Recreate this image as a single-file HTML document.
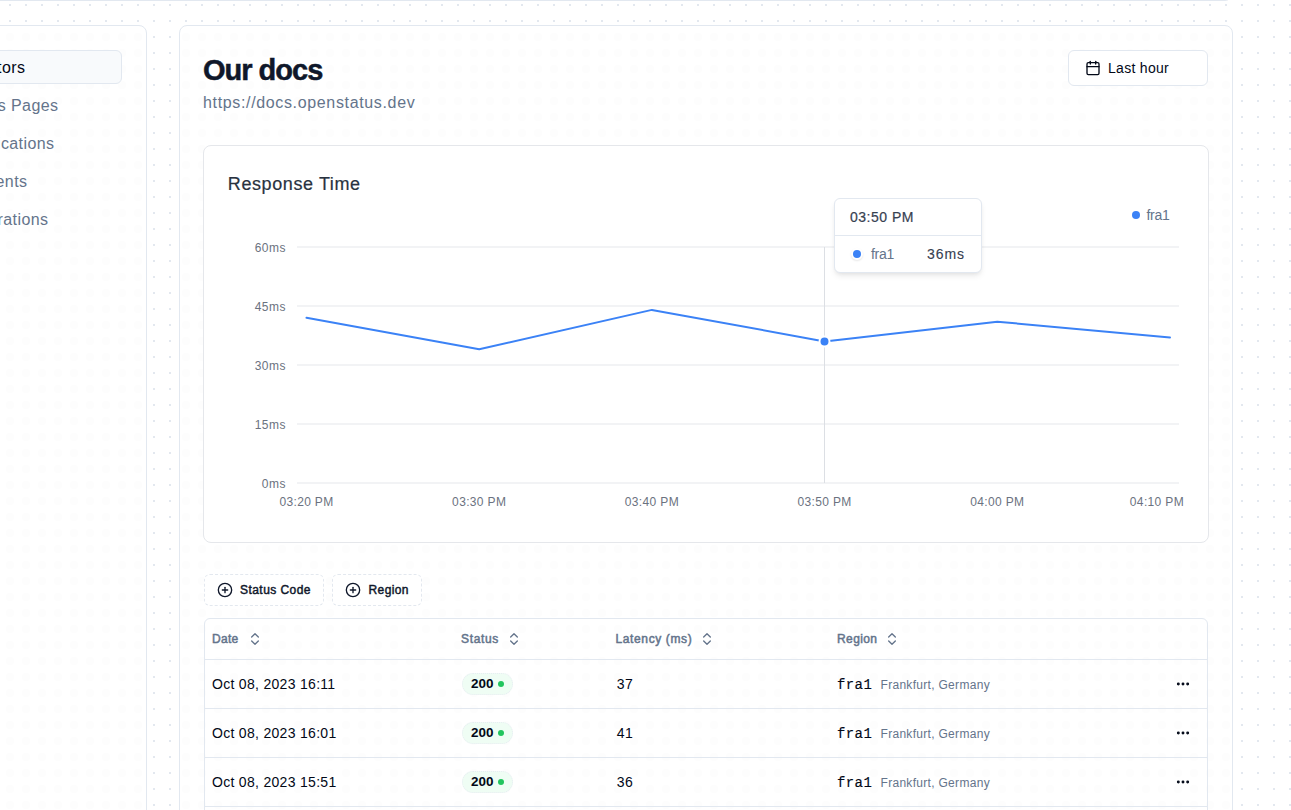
<!DOCTYPE html>
<html><head><meta charset="utf-8">
<style>
*{box-sizing:border-box;margin:0;padding:0}
html,body{width:1291px;height:810px;overflow:hidden;background:#fff}
body{position:relative;font-family:"Liberation Sans",sans-serif;color:#020817}
.abs{position:absolute}
.bgdots{position:absolute;left:0;top:0}
.card{position:absolute;border:1px solid #e2e8f0;border-radius:8px}
.t{position:absolute;white-space:nowrap;line-height:1}
.nav{position:absolute;white-space:nowrap;font-size:16px;color:#64748b;line-height:20px;margin-top:1px;letter-spacing:0.4px;margin-right:-0.4px}
.th{font-size:12px;color:#64748b;font-weight:400;-webkit-text-stroke:0.5px #64748b}
.td{font-size:14px;color:#020817;letter-spacing:0.3px;margin-left:-1px}
.badge{width:51px;height:22px;border-radius:11px;background:#effdf4;border:1px dotted #e8edf3}
.badge span{position:absolute;left:8px;top:4px;font-size:12px;line-height:1;font-weight:700;color:#020817;letter-spacing:0;transform:scaleX(1.12);transform-origin:0 0}
.badge i{position:absolute;left:35px;top:7px;width:6px;height:6px;border-radius:50%;background:#22c55e}
</style></head><body>
<svg class="bgdots" width="1291" height="810">
<defs>
<pattern id="dp" width="16" height="16" patternUnits="userSpaceOnUse" x="0" y="0"><rect x="9" y="4" width="2" height="2" fill="#e3e8ef"/></pattern>
<pattern id="bp" width="16" height="16" patternUnits="userSpaceOnUse" x="0" y="0"><circle cx="10" cy="5" r="4" fill="#000" fill-opacity="0.009"/></pattern>
</defs>
<rect width="1291" height="810" fill="url(#dp)"/>
<g fill="#fff"><rect x="-20" y="-60" width="1253" height="61" rx="8"/><rect x="-20" y="25" width="167" height="840" rx="8"/><rect x="179" y="25" width="1054" height="840" rx="8"/></g>
<g fill="url(#bp)"><rect x="-20" y="-60" width="1253" height="61" rx="8"/><rect x="-20" y="25" width="167" height="840" rx="8"/><rect x="179" y="25" width="1054" height="840" rx="8"/></g>
</svg>

<!-- header card -->
<div class="card" style="left:-20px;top:-60px;width:1253px;height:61px"></div>
<!-- sidebar card -->
<div class="card" style="left:-20px;top:25px;width:167px;height:840px"></div>
<!-- main card -->
<div class="card" style="left:179px;top:25px;width:1054px;height:840px"></div>

<!-- sidebar nav -->
<div class="abs" style="left:-40px;top:50px;width:162px;height:34px;border:1px solid #e2e8f0;border-radius:6px;background:#f8fafc"></div>
<div class="nav" style="top:57px;right:1266px;color:#020817">Monitors</div>
<div class="nav" style="top:95px;right:1233px">Status Pages</div>
<div class="nav" style="top:133px;right:1237px">Notifications</div>
<div class="nav" style="top:171px;right:1264px">Incidents</div>
<div class="nav" style="top:209px;right:1243px">Integrations</div>

<!-- title -->
<div class="t" style="left:203px;top:55.5px;font-size:29px;font-weight:700;letter-spacing:-1.0px;color:#0f172a;-webkit-text-stroke:0.5px #0f172a">Our docs</div>
<div class="t" style="left:203px;top:95px;font-size:16px;letter-spacing:0.65px;color:#64748b">https://docs.openstatus.dev</div>

<!-- date button -->
<div class="abs" style="left:1068px;top:50px;width:140px;height:36px;border:1px solid #e2e8f0;border-radius:6px;background:#fff"></div>
<svg class="abs" style="left:1085px;top:60px" width="16" height="16" viewBox="0 0 24 24" fill="none" stroke="#020817" stroke-width="2" stroke-linecap="round" stroke-linejoin="round"><rect x="3" y="4" width="18" height="18" rx="2"/><line x1="16" y1="2" x2="16" y2="6"/><line x1="8" y1="2" x2="8" y2="6"/><line x1="3" y1="10" x2="21" y2="10"/></svg>
<div class="t" style="left:1108px;top:61px;font-size:14px;letter-spacing:0.3px;color:#020817">Last hour</div>

<!-- chart card -->
<div class="abs" style="left:203px;top:145px;width:1006px;height:398px;border:1px solid #e5e7eb;border-radius:8px;background:#fff"></div>
<div class="t" style="left:227.8px;top:175px;font-size:18px;letter-spacing:0.6px;color:#283240;-webkit-text-stroke:0.2px #283240">Response Time</div>

<svg class="abs" style="left:0;top:0" width="1291" height="810">
<line x1="297" y1="247" x2="1179" y2="247" stroke="#e5e7eb" stroke-width="1"/>
<line x1="297" y1="306" x2="1179" y2="306" stroke="#e5e7eb" stroke-width="1"/>
<line x1="297" y1="365" x2="1179" y2="365" stroke="#e5e7eb" stroke-width="1"/>
<line x1="297" y1="424" x2="1179" y2="424" stroke="#e5e7eb" stroke-width="1"/>
<line x1="297" y1="483" x2="1179" y2="483" stroke="#e5e7eb" stroke-width="1"/>
<text x="286" y="252" text-anchor="end" font-size="12" letter-spacing="0.5" fill="#6b7280">60ms</text>
<text x="286" y="311" text-anchor="end" font-size="12" letter-spacing="0.5" fill="#6b7280">45ms</text>
<text x="286" y="370" text-anchor="end" font-size="12" letter-spacing="0.5" fill="#6b7280">30ms</text>
<text x="286" y="429" text-anchor="end" font-size="12" letter-spacing="0.5" fill="#6b7280">15ms</text>
<text x="286" y="488" text-anchor="end" font-size="12" letter-spacing="0.5" fill="#6b7280">0ms</text>
<text x="306.5" y="506" text-anchor="middle" font-size="12" letter-spacing="0.35" fill="#6b7280">03:20 PM</text>
<text x="479.2" y="506" text-anchor="middle" font-size="12" letter-spacing="0.35" fill="#6b7280">03:30 PM</text>
<text x="651.9" y="506" text-anchor="middle" font-size="12" letter-spacing="0.35" fill="#6b7280">03:40 PM</text>
<text x="824.6" y="506" text-anchor="middle" font-size="12" letter-spacing="0.35" fill="#6b7280">03:50 PM</text>
<text x="997.3" y="506" text-anchor="middle" font-size="12" letter-spacing="0.35" fill="#6b7280">04:00 PM</text>
<text x="1184" y="506" text-anchor="end" font-size="12" letter-spacing="0.35" fill="#6b7280">04:10 PM</text>
<line x1="824.5" y1="247" x2="824.5" y2="483" stroke="#dcdfe4" stroke-width="1"/>
<path d="M306.5 317.8 L479.2 349.3 L651.9 309.9 L824.6 341.4 L997.3 321.7 L1170.0 337.5" fill="none" stroke="#3b82f6" stroke-width="2" stroke-linejoin="round" stroke-linecap="round"/>
<circle cx="824.5" cy="341.4" r="5" fill="#3b82f6" stroke="#fff" stroke-width="2"/>
<circle cx="1136" cy="215" r="4" fill="#3b82f6"/>
<text x="1146.5" y="220" font-size="14" letter-spacing="-0.3" fill="#64748b">fra1</text>
</svg>

<!-- tooltip -->
<div class="abs" style="left:834px;top:198px;width:148px;height:75px;border:1px solid #e2e8f0;border-radius:6px;background:#fff;box-shadow:0 4px 6px -1px rgba(0,0,0,0.08),0 2px 4px -2px rgba(0,0,0,0.08)">
 <div style="position:absolute;left:0;right:0;top:36px;border-top:1px solid #e2e8f0"></div>
</div>
<div class="t" style="left:850px;top:210px;font-size:14px;letter-spacing:0.5px;color:#374151;-webkit-text-stroke:0.2px #374151">03:50 PM</div>
<div class="abs" style="left:851px;top:248px;width:12px;height:12px;border-radius:50%;background:#3b82f6;border:2px solid #fff;box-shadow:0 1px 2px rgba(0,0,0,0.1)"></div>
<div class="t" style="left:871px;top:247px;font-size:14px;letter-spacing:-0.3px;color:#64748b">fra1</div>
<div class="t" style="left:927px;top:247px;font-size:14px;letter-spacing:0.95px;color:#374151;-webkit-text-stroke:0.12px #374151">36ms</div>


<!-- filters -->
<div class="abs" style="left:204px;top:574px;width:120px;height:32px;border:1px dashed #e3e8ef;border-radius:6px;background:rgba(255,255,255,0.7)"></div>
<div class="abs" style="left:217px;top:582px"><svg width="16" height="16" viewBox="0 0 24 24" fill="none" stroke="#0f172a" stroke-width="2" stroke-linecap="round" stroke-linejoin="round"><circle cx="12" cy="12" r="10"/><path d="M8 12h8"/><path d="M12 8v8"/></svg></div>
<div class="t" style="left:240px;top:584px;font-size:12px;font-weight:400;letter-spacing:0.45px;color:#0f172a;-webkit-text-stroke:0.45px #0f172a">Status Code</div>
<div class="abs" style="left:332px;top:574px;width:90px;height:32px;border:1px dashed #e3e8ef;border-radius:6px;background:rgba(255,255,255,0.7)"></div>
<div class="abs" style="left:345px;top:582px"><svg width="16" height="16" viewBox="0 0 24 24" fill="none" stroke="#0f172a" stroke-width="2" stroke-linecap="round" stroke-linejoin="round"><circle cx="12" cy="12" r="10"/><path d="M8 12h8"/><path d="M12 8v8"/></svg></div>
<div class="t" style="left:368.5px;top:584px;font-size:12px;font-weight:400;letter-spacing:0.4px;color:#0f172a;-webkit-text-stroke:0.45px #0f172a">Region</div>

<!-- table -->
<div class="abs" style="left:204px;top:618px;width:1004px;height:260px;border:1px solid #e2e8f0;border-radius:6px"></div>
<div class="abs" style="left:205px;top:659px;width:1002px;border-top:1px solid #e2e8f0"></div>
<div class="abs" style="left:205px;top:708px;width:1002px;border-top:1px solid #e2e8f0"></div>
<div class="abs" style="left:205px;top:757px;width:1002px;border-top:1px solid #e2e8f0"></div>
<div class="abs" style="left:205px;top:806px;width:1002px;border-top:1px solid #e2e8f0"></div>
<div class="t th" style="left:212px;top:633px;letter-spacing:0.3px">Date</div><svg class="abs" style="left:247px;top:631px" width="16" height="16" viewBox="0 0 24 24" fill="none" stroke="#64748b" stroke-width="2" stroke-linecap="round" stroke-linejoin="round"><path d="m7 15 5 5 5-5"/><path d="m7 9 5-5 5 5"/></svg>
<div class="t th" style="left:461px;top:633px;letter-spacing:0.65px">Status</div><svg class="abs" style="left:506px;top:631px" width="16" height="16" viewBox="0 0 24 24" fill="none" stroke="#64748b" stroke-width="2" stroke-linecap="round" stroke-linejoin="round"><path d="m7 15 5 5 5-5"/><path d="m7 9 5-5 5 5"/></svg>
<div class="t th" style="left:615.5px;top:633px;letter-spacing:0.62px">Latency (ms)</div><svg class="abs" style="left:699px;top:631px" width="16" height="16" viewBox="0 0 24 24" fill="none" stroke="#64748b" stroke-width="2" stroke-linecap="round" stroke-linejoin="round"><path d="m7 15 5 5 5-5"/><path d="m7 9 5-5 5 5"/></svg>
<div class="t th" style="left:837px;top:633px;letter-spacing:0.4px">Region</div><svg class="abs" style="left:884px;top:631px" width="16" height="16" viewBox="0 0 24 24" fill="none" stroke="#64748b" stroke-width="2" stroke-linecap="round" stroke-linejoin="round"><path d="m7 15 5 5 5-5"/><path d="m7 9 5-5 5 5"/></svg>
<div class="t td" style="left:213px;top:677px">Oct 08, 2023 16:11</div>
<div class="abs badge" style="left:462px;top:673px"><span>200</span><i></i></div>
<div class="t td" style="left:617.8px;top:677px">37</div>
<div class="t" style="left:837px;top:678px;font-family:'Liberation Mono',monospace;font-size:14px;letter-spacing:0.4px;-webkit-text-stroke:0.15px #020817;color:#020817">fra1</div>
<div class="t" style="left:880.5px;top:679px;font-size:12px;letter-spacing:0.3px;color:#64748b">Frankfurt, Germany</div>
<svg class="abs" style="left:1175px;top:676px" width="16" height="16" viewBox="0 0 24 24" fill="none" stroke="#020817" stroke-width="2.4" stroke-linecap="round" stroke-linejoin="round"><circle cx="12" cy="12" r="1"/><circle cx="19" cy="12" r="1"/><circle cx="5" cy="12" r="1"/></svg>
<div class="t td" style="left:213px;top:726px">Oct 08, 2023 16:01</div>
<div class="abs badge" style="left:462px;top:722px"><span>200</span><i></i></div>
<div class="t td" style="left:617.8px;top:726px">41</div>
<div class="t" style="left:837px;top:727px;font-family:'Liberation Mono',monospace;font-size:14px;letter-spacing:0.4px;-webkit-text-stroke:0.15px #020817;color:#020817">fra1</div>
<div class="t" style="left:880.5px;top:728px;font-size:12px;letter-spacing:0.3px;color:#64748b">Frankfurt, Germany</div>
<svg class="abs" style="left:1175px;top:725px" width="16" height="16" viewBox="0 0 24 24" fill="none" stroke="#020817" stroke-width="2.4" stroke-linecap="round" stroke-linejoin="round"><circle cx="12" cy="12" r="1"/><circle cx="19" cy="12" r="1"/><circle cx="5" cy="12" r="1"/></svg>
<div class="t td" style="left:213px;top:775px">Oct 08, 2023 15:51</div>
<div class="abs badge" style="left:462px;top:771px"><span>200</span><i></i></div>
<div class="t td" style="left:617.8px;top:775px">36</div>
<div class="t" style="left:837px;top:776px;font-family:'Liberation Mono',monospace;font-size:14px;letter-spacing:0.4px;-webkit-text-stroke:0.15px #020817;color:#020817">fra1</div>
<div class="t" style="left:880.5px;top:777px;font-size:12px;letter-spacing:0.3px;color:#64748b">Frankfurt, Germany</div>
<svg class="abs" style="left:1175px;top:774px" width="16" height="16" viewBox="0 0 24 24" fill="none" stroke="#020817" stroke-width="2.4" stroke-linecap="round" stroke-linejoin="round"><circle cx="12" cy="12" r="1"/><circle cx="19" cy="12" r="1"/><circle cx="5" cy="12" r="1"/></svg>

</body></html>
